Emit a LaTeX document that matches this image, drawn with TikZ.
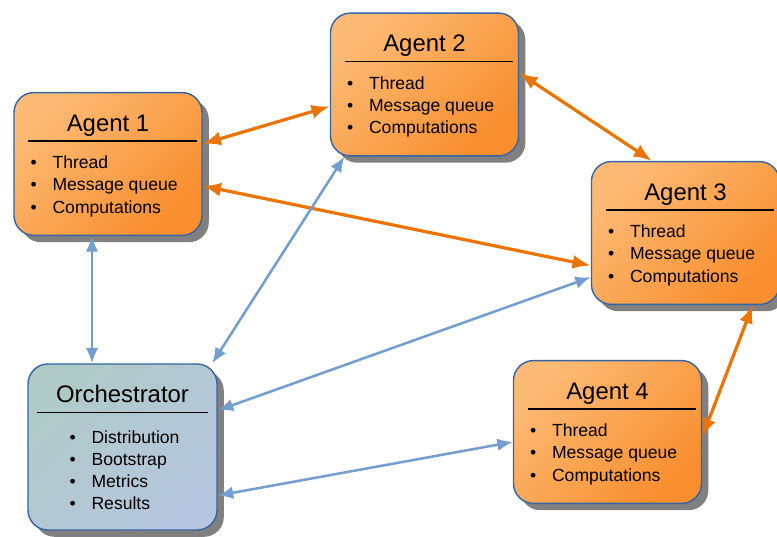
\documentclass[tikz,border=0pt]{standalone}
\usepackage{fontspec}
\setmainfont{Liberation Sans}
\usetikzlibrary{arrows.meta,positioning,shadows,calc}

\definecolor{agenttop}{RGB}{253,186,116}
\definecolor{agentbottom}{RGB}{248,142,46}
\definecolor{orchtop}{RGB}{176,202,200}
\definecolor{orchbottom}{RGB}{181,198,222}
\definecolor{boxline}{RGB}{52,101,164}
\definecolor{shadowgray}{RGB}{128,128,128}
\definecolor{linkorange}{RGB}{236,116,4}
\definecolor{linkblue}{RGB}{114,159,207}

\newcommand{\bul}{\makebox[0.55cm][l]{\textbullet}}

\begin{document}
\begin{tikzpicture}[
    x=0.025cm, y=-0.025cm,
    box/.style={draw=boxline, line width=1pt, rounded corners=0.5cm,
        minimum width=4.7cm, minimum height=3.57cm,
        drop shadow={shadow xshift=0.17cm, shadow yshift=-0.17cm, fill=shadowgray, opacity=1}},
    agent/.style={box, top color=agenttop, bottom color=agentbottom, shading angle=45},
    orchbox/.style={box, top color=orchtop, bottom color=orchbottom, shading angle=45,
        minimum width=4.725cm, minimum height=4.15cm},
    title/.style={font=\fontsize{17}{20}\selectfont, inner sep=0pt, anchor=base},
    items/.style={font=\fontsize{12.5}{15.7}\selectfont, align=left, inner sep=0pt, anchor=north west},
    sep/.style={line width=1pt},
    orangearr/.style={{Latex[length=13pt,width=10pt]}-{Latex[length=13pt,width=10pt]}, line width=2.3pt, linkorange},
    bluearr/.style={{Latex[length=11pt,width=9pt]}-{Latex[length=11pt,width=9pt]}, line width=1.8pt, linkblue}
]
\useasboundingbox (0,0) rectangle (777,537);

% agents
\foreach \n/\x/\y/\ttl in {a1/108/164/Agent 1, a2/424.5/84.5/Agent 2, a3/685.5/233/Agent 3, a4/607.5/432/Agent 4} {
  \node[agent] (\n) at (\x,\y) {};
  \node[title] (\n-title) at ([yshift=-0.99cm]\n.north) {\ttl};
  \draw[sep] ([xshift=0.375cm,yshift=-1.225cm]\n.north west) -- ([xshift=-0.15cm,yshift=-1.225cm]\n.north east);
  \node[items] (\n-items) at ([xshift=0.425cm,yshift=-1.6cm]\n.north west)
    {\bul Thread\\ \bul Message queue\\ \bul Computations};
}

% orchestrator
\node[orchbox] (orch) at (122.5,447) {};
\node[title] (orch-title) at ([yshift=-0.99cm]orch.north) {Orchestrator};
\draw[sep] ([xshift=0.25cm,yshift=-1.225cm]orch.north west) -- ([xshift=-0.25cm,yshift=-1.225cm]orch.north east);
\node[items] (orch-items) at ([xshift=1.05cm,yshift=-1.675cm]orch.north west)
  {\bul Distribution\\ \bul Bootstrap\\ \bul Metrics\\ \bul Results};

% links between agents
\draw[orangearr] (a1.12) -- (a2.193);
\draw[orangearr] (a1.-13) -- (a3.199);
\draw[orangearr] (a2.7) -- (a3.115);
\draw[orangearr] (a3.-47) -- (a4.-3);

% links from the orchestrator
\draw[bluearr] ([xshift=-0.4cm]a1.south) -- ([xshift=-0.4cm]a1.south |- orch.north);
\draw[bluearr] (orch.43) -- (a2.222);
\draw[bluearr] (orch.21) -- (a3.205);
\draw[bluearr] (orch.-27) -- (a4.186);
\end{tikzpicture}
\end{document}
